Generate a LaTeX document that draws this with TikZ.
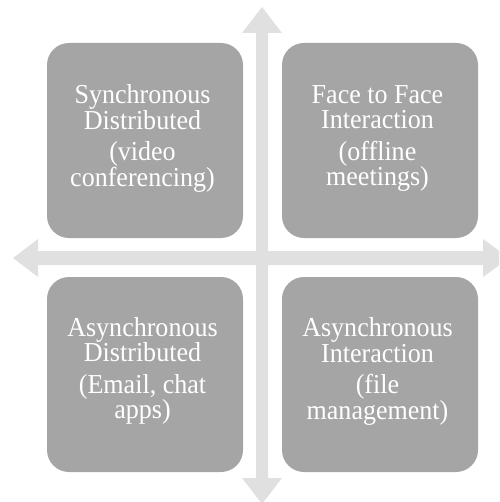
\documentclass[tikz,border=0pt]{standalone}
\usepackage{fontspec}
\setmainfont{Liberation Serif}[FakeStretch=0.95]
\definecolor{boxgray}{HTML}{A5A5A5}
\definecolor{arrowgray}{HTML}{E0E0E0}
\tikzset{
  quad/.style={fill=boxgray, draw=none, rounded corners=22pt, minimum width=196pt, minimum height=195pt, inner sep=0pt},
  quadtext/.style={text=white, align=center, font=\fontsize{27.4}{25.5}\selectfont, inner sep=0pt},
  crossarrow/.style={fill=arrowgray, draw=none}
}
\begin{document}
\begin{tikzpicture}[x=1pt,y=-1pt]
\useasboundingbox (0,0) rectangle (499,502);
\clip (0,0) rectangle (499,502);
% vertical double arrow
\fill[crossarrow] (262,7) -- (282,33) -- (268,33) -- (268,478) -- (282,478) -- (262,504) -- (242,478) -- (256,478) -- (256,33) -- (242,33) -- cycle;
% horizontal double arrow
\fill[crossarrow] (13,258) -- (38,239) -- (38,251) -- (483,251) -- (483,239) -- (509,258) -- (483,277) -- (483,265) -- (38,265) -- (38,277) -- cycle;
% boxes
\node[quad] (tl) at (145,140.5) {};
\node[quad] (tr) at (380,140.5) {};
\node[quad] (bl) at (145,374.5) {};
\node[quad] (br) at (380,374.5) {};
\node[quadtext] (tlt) at (142.5,138.5) {Synchronous\\Distributed\\[6pt](video\\conferencing)};
\node[quadtext] (trt) at (377.5,138.5) {Face to Face\\Interaction\\[6pt](offline\\meetings)};
\node[quadtext] (blt) at (142.5,371) {Asynchronous\\Distributed\\[6pt](Email, chat\\apps)};
\node[quadtext] (brt) at (377.5,371.5) {Asynchronous\\Interaction\\[6pt](file\\management)};
\end{tikzpicture}
\end{document}
